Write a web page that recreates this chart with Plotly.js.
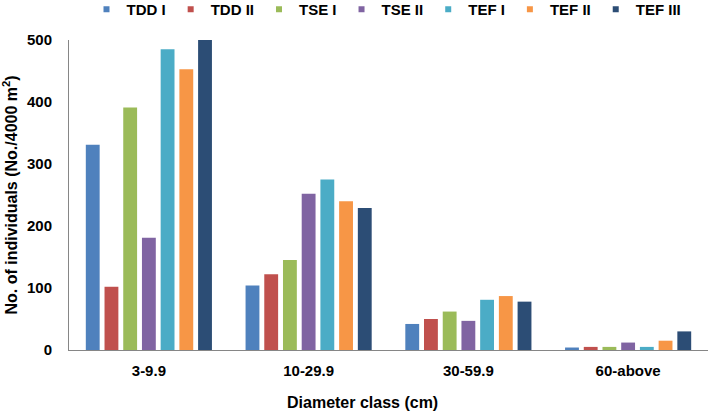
<!DOCTYPE html>
<html>
<head>
<meta charset="utf-8">
<script src="https://cdn.plot.ly/plotly-3.0.1.min.js"></script>
<style>html,body{margin:0;padding:0;background:#fff;}#chart{width:709px;height:413px;}</style>
</head>
<body>
<div id="chart"></div>
<script>
const categories = ["3-9.9", "10-29.9", "30-59.9", "60-above"];
const seriesNames = ["TDD I", "TDD II", "TSE I", "TSE II", "TEF I", "TEF II", "TEF III"];
const tddI   = [331, 104, 42, 4];
const tddII  = [102, 122, 50, 5];
const tseI   = [391, 145, 62, 5];
const tseII  = [181, 252, 47, 12];
const tefI   = [485, 275, 81, 5];
const tefII  = [453, 240, 87, 15];
const tefIII = [500, 229, 78, 30];
const yTicks = [0, 100, 200, 300, 400, 500];
const colors = ["#4F81BD", "#C0504D", "#9BBB59", "#8064A2", "#4BACC6", "#F79646", "#2C4D75"];
const seriesValues = [tddI, tddII, tseI, tseII, tefI, tefII, tefIII];

const fontFam = "Liberation Sans, Arial, sans-serif";
const traces = [];
seriesValues.forEach((vals, i) => {
  traces.push({
    type: "bar", x: categories, y: vals, name: seriesNames[i],
    marker: {color: colors[i]}, showlegend: false, hoverinfo: "x+y+name"
  });
});
seriesValues.forEach((vals, i) => {
  traces.push({
    type: "scatter", mode: "markers", x: [null], y: [null], name: seriesNames[i],
    marker: {symbol: "square", size: 6, color: colors[i]}, showlegend: true
  });
});

const layout = {
  width: 709, height: 413,
  margin: {l: 69, r: 1, t: 40, b: 63},
  paper_bgcolor: "#fff", plot_bgcolor: "#fff",
  font: {family: fontFam, color: "#000", size: 15, weight: "bold"},
  barmode: "group", bargap: 0.18, bargroupgap: 0.26,
  showlegend: true,
  legend: {
    orientation: "h", xref: "container", yref: "container",
    x: 0.122, xanchor: "left", y: 1, yanchor: "top",
    font: {family: fontFam, size: 15, color: "#000", weight: "bold"},
    itemwidth: 30, traceorder: "normal", borderwidth: 0,
    tracegroupgap: 0, valign: "middle"
  },
  xaxis: {
    type: "category", showline: true, linecolor: "#868686", linewidth: 1,
    ticks: "", showgrid: false, zeroline: false, ticklabelstandoff: 7,
    tickfont: {family: fontFam, size: 15, color: "#000", weight: "bold"}
  },
  yaxis: {
    range: [0, 500], tickvals: yTicks, showline: true, linecolor: "#868686", linewidth: 1,
    ticks: "", showgrid: false, zeroline: false, ticklabelstandoff: 13,
    tickfont: {family: fontFam, size: 15, color: "#000", weight: "bold"},
    title: {text: "No. of individuals (No./4000 m<sup>2</sup>)", standoff: 8,
      font: {family: fontFam, size: 16, color: "#000", weight: "bold"}}
  },
  annotations: [{
    text: "Diameter class (cm)", xref: "paper", yref: "paper",
    x: (362 - 69) / 639, y: -(402 - 350) / 310, xanchor: "center", yanchor: "middle",
    showarrow: false, font: {family: fontFam, size: 16, color: "#000", weight: "bold"}
  }]
};
Plotly.newPlot("chart", traces, layout, {displayModeBar: false, staticPlot: true}).then(gd => {
  // nudge the legend up so its row sits where the reference's does
  const lg = gd.querySelector(".legend");
  if (lg) {
    const t = lg.getAttribute("transform") || "";
    const m = t.match(/translate\(([-\d.]+)[ ,]+([-\d.]+)\)/);
    if (m) lg.setAttribute("transform", "translate(" + m[1] + "," + (parseFloat(m[2]) - 7) + ")");
  }
});
</script>
</body>
</html>
